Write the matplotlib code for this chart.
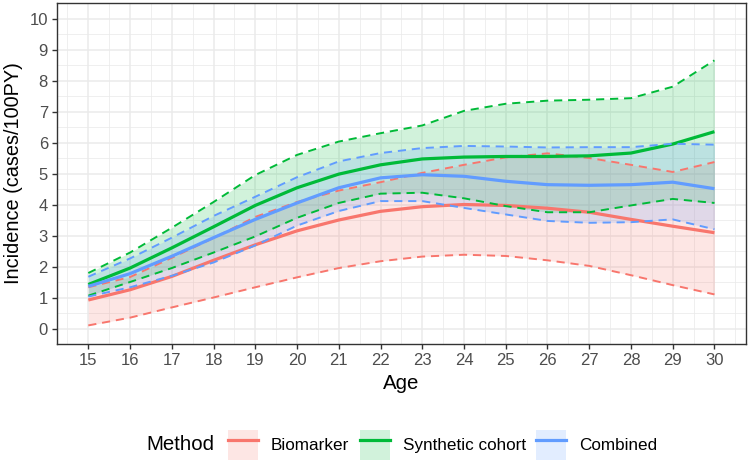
import numpy as np
import matplotlib
matplotlib.use("Agg")
from matplotlib import pyplot as plt
from matplotlib.patches import Patch
from matplotlib.lines import Line2D

plt.rcParams['font.family'] = ['Liberation Sans', 'DejaVu Sans']

# ages and curve estimates
age = [15, 16, 17, 18, 19, 20, 21, 22, 23, 24, 25, 26, 27, 28, 29, 30]

bio_mid = [0.92, 1.25, 1.68, 2.20, 2.70, 3.15, 3.50, 3.78, 3.93, 4.00, 3.97, 3.88, 3.75, 3.52, 3.30, 3.09]
bio_lo = [0.10, 0.35, 0.68, 1.00, 1.33, 1.65, 1.95, 2.17, 2.32, 2.38, 2.34, 2.20, 2.02, 1.72, 1.40, 1.10]
bio_hi = [1.33, 1.66, 2.28, 2.92, 3.60, 4.08, 4.45, 4.72, 5.02, 5.28, 5.52, 5.65, 5.50, 5.28, 5.05, 5.37]

syn_mid = [1.42, 1.95, 2.60, 3.28, 3.97, 4.54, 4.98, 5.28, 5.47, 5.53, 5.55, 5.55, 5.57, 5.66, 5.95, 6.35]
syn_lo = [1.06, 1.50, 1.95, 2.45, 2.97, 3.57, 4.05, 4.35, 4.38, 4.20, 3.95, 3.75, 3.75, 3.97, 4.18, 4.05]
syn_hi = [1.79, 2.45, 3.25, 4.08, 4.95, 5.60, 6.03, 6.30, 6.55, 7.02, 7.25, 7.35, 7.38, 7.43, 7.80, 8.65]

com_mid = [1.36, 1.77, 2.33, 2.93, 3.52, 4.05, 4.54, 4.86, 4.96, 4.91, 4.75, 4.64, 4.62, 4.64, 4.72, 4.51]
com_lo = [1.03, 1.33, 1.70, 2.13, 2.68, 3.32, 3.79, 4.11, 4.11, 3.89, 3.68, 3.47, 3.41, 3.43, 3.52, 3.20]
com_hi = [1.67, 2.26, 2.93, 3.63, 4.25, 4.88, 5.39, 5.66, 5.82, 5.89, 5.87, 5.84, 5.85, 5.85, 5.96, 5.93]

methods = ['Biomarker', 'Synthetic cohort', 'Combined']
colors = ['#F8766D', '#00BA38', '#619CFF']
series = [(bio_mid, bio_lo, bio_hi), (syn_mid, syn_lo, syn_hi), (com_mid, com_lo, com_hi)]

fig = plt.figure(figsize=(7.48, 4.63), dpi=100)
ax = fig.add_axes([0.0762, 0.257, 0.9208, 0.7365])

# ribbons first, then lines on top
for (mid, lo, hi), c in zip(series, colors):
    ax.fill_between(age, lo, hi, color=c, alpha=0.18, linewidth=0)
for (mid, lo, hi), c in zip(series, colors):
    ax.plot(age, lo, color=c, lw=1.4, dashes=(4.2, 3.0))
    ax.plot(age, hi, color=c, lw=1.4, dashes=(4.2, 3.0))
    ax.plot(age, mid, color=c, lw=2.3, solid_capstyle='butt')

ax.set_xlim(14.25, 30.75)
ax.set_ylim(-0.5, 10.5)
ax.set_xticks(range(15, 31))
ax.set_yticks(range(0, 11))
ax.set_xticks(np.arange(14.5, 31, 1), minor=True)
ax.set_yticks(np.arange(-0.5, 10.6, 1), minor=True)

ax.set_facecolor('white')
ax.grid(True, which='major', color='#EBEBEB', lw=1.1)
ax.grid(True, which='minor', color='#EBEBEB', lw=0.55)
ax.set_axisbelow(True)
for s in ax.spines.values():
    s.set_color('#333333')
    s.set_linewidth(1.0)
ax.tick_params(which='major', length=3.5, width=1.0, color='#333333',
               labelsize=12, labelcolor='#4D4D4D', pad=3)
ax.tick_params(which='minor', length=0)

ax.set_xlabel('Age', fontsize=14.7, labelpad=4)
ax.set_ylabel('Incidence (cases/100PY)', fontsize=14.3, labelpad=5)

# legend at the bottom, title on the left
handles = [(Patch(facecolor=c, alpha=0.18, edgecolor='none'), Line2D([], [], color=c, lw=2.3))
           for c in colors]
fig.text(0.196, 0.039, 'Method', fontsize=14.7, ha='left', va='center')
fig.legend(handles, methods, loc='center left', bbox_to_anchor=(0.305, 0.039),
           ncol=3, frameon=False, fontsize=12.3, handlelength=1.75, handleheight=2.3,
           handletextpad=0.75, columnspacing=0.62, borderpad=0, borderaxespad=0)

fig.savefig('out.png', dpi=100)
